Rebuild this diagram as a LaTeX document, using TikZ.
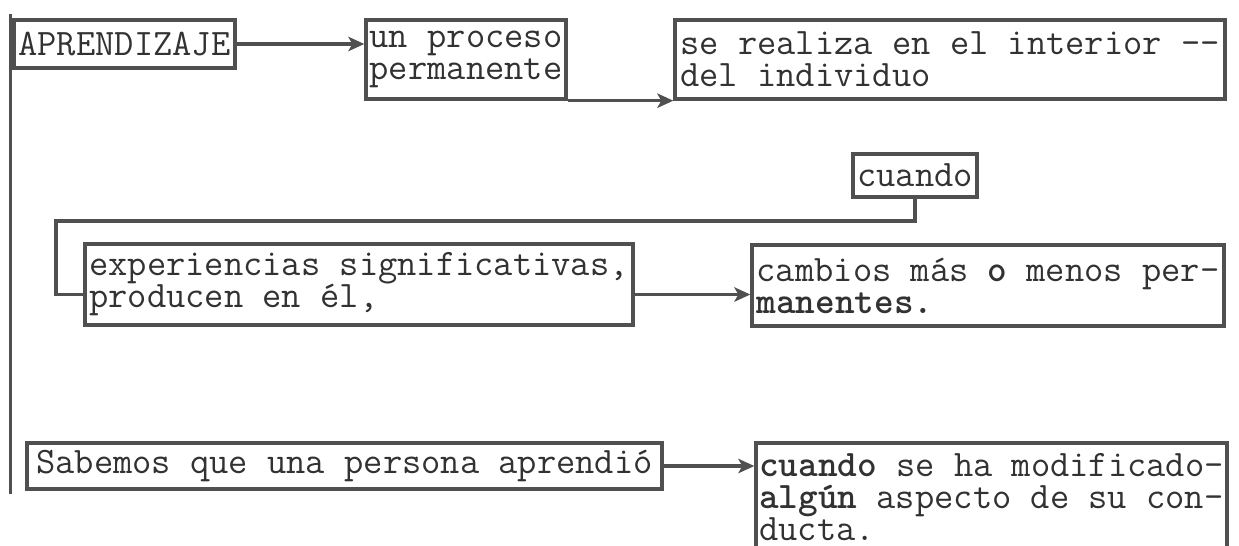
\documentclass[tikz,border=0pt]{standalone}
\usepackage{fontspec}
\usepackage{tikz}
\usetikzlibrary{arrows.meta, positioning, calc}
\definecolor{tinta}{RGB}{80,80,80}
\definecolor{letra}{RGB}{50,50,50}

\begin{document}
\begin{tikzpicture}[
  font=\ttfamily\fontsize{26.6}{22.8}\selectfont,
  caja/.style={rectangle, draw=tinta, line width=2.4pt, text=letra,
               inner xsep=0.08cm, inner ysep=0pt, align=left},
  linea/.style={tinta, line width=2.4pt},
  flecha/.style={-{Stealth[length=4mm, width=3.6mm, inset=1mm]}, tinta, line width=2.4pt}]

  \useasboundingbox (0,0) rectangle (30.975,-13.625);

  \node[caja, minimum width=5.525cm, minimum height=1.2cm, inner xsep=0pt] (apr) at (3.11,-1.1) {APRENDIZAJE};
  \node[caja, minimum width=5.0cm, minimum height=1.975cm] (proc) at (11.65,-1.4875) {un proceso\\permanente};
  \node[caja, minimum width=13.75cm, minimum height=1.975cm] (real) at (23.75,-1.4875) {se realiza en el interior -{}-\\del individuo};

  \node[caja, minimum width=3.1cm, minimum height=1.075cm] (cuan) at (22.875,-4.3875) {cuando};
  \node[caja, minimum width=13.7cm, minimum height=2.025cm] (exp) at (8.975,-7.1125) {experiencias significativas,\\producen en él,};
  \node[caja, minimum width=11.8cm, minimum height=2.025cm] (camb) at (24.7,-7.1375) {cambios más \textbf{o} menos per-\\\textbf{manentes.}};

  \node[caja, minimum width=15.875cm, minimum height=1.15cm] (sab) at (8.6125,-11.65) {Sabemos que una persona aprendió};
  \node[caja, minimum width=11.775cm, minimum height=2.7cm] (cond) at (24.7875,-12.425) {\textbf{cuando} se ha modificado-\\\textbf{algún} aspecto de su con-\\ducta.};

  % tronco vertical a la izquierda
  \draw[linea] ($(apr.north west)+(-0.05,0.12)$) -- ($(apr.north west |- sab.south)+(-0.05,-0.08)$);

  \draw[flecha] (apr.east) -- (apr.east -| proc.west);
  \draw[flecha] (proc.south east) -- (real.south west);

  \coordinate (codo) at (1.4,-5.525);
  \draw[linea] (cuan.south) |- (codo) |- ($(exp.west)+(0,-0.25)$);
  \draw[flecha] ($(exp.east)+(0,-0.25)$) -- ($(exp.east -| camb.west)+(0,-0.25)$);

  \draw[flecha] (sab.east) -- (sab.east -| cond.west);
\end{tikzpicture}
\end{document}
